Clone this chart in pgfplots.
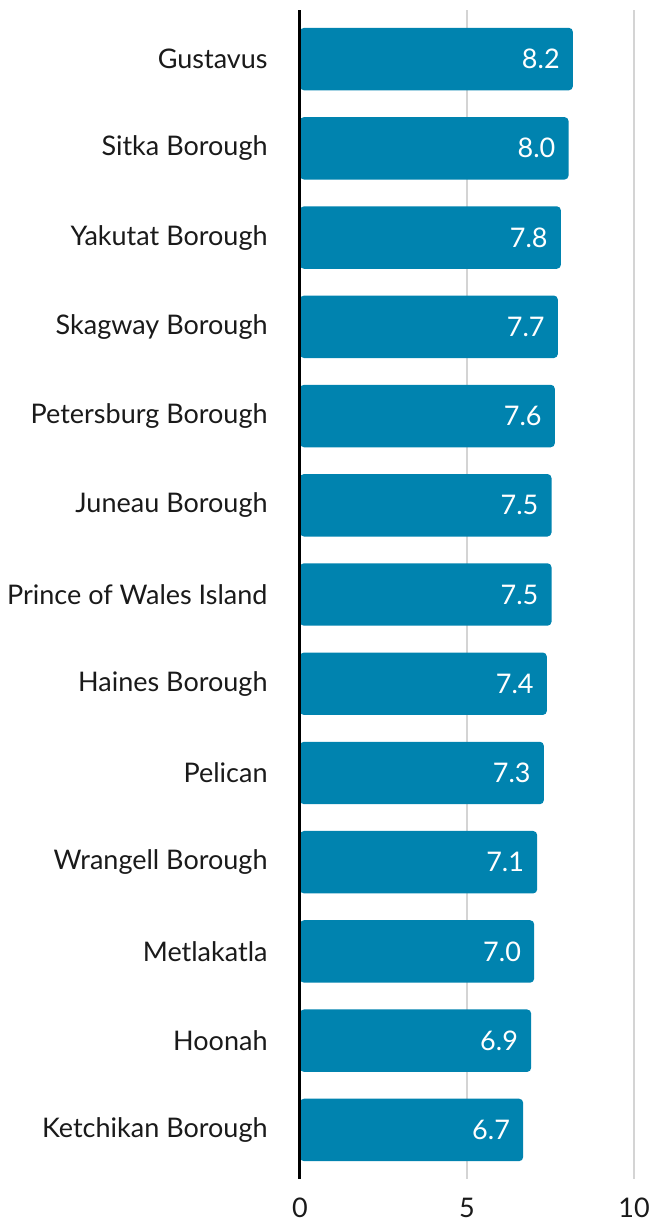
\documentclass[border=0pt]{standalone}
\usepackage{pgfplots}
\pgfplotsset{compat=1.18}
\usepackage{fontspec}
\setmainfont{Lato}
\definecolor{barblue}{HTML}{0083AF}
\definecolor{gridgray}{HTML}{D4D4D4}
\definecolor{txt}{HTML}{1A1A1A}
\begin{document}
\fontsize{27bp}{31bp}\selectfont
\begin{tikzpicture}
\begin{axis}[
  scale only axis,
  width=334bp, height=1169bp,
  xmin=0, xmax=10,
  ymin=-0.55, ymax=12.55,
  y dir=reverse,
  clip=false,
  xbar, bar width=0.7,
  axis line style={draw=none},
  xtick={0,5,10},
  xmajorgrids,
  major grid style={gridgray, line width=1.2bp},
  tick style={draw=none},
  ytick={0,...,12},
  yticklabels={Gustavus,Sitka Borough,Yakutat Borough,Skagway Borough,Petersburg Borough,Juneau Borough,Prince of Wales Island,Haines Borough,Pelican,Wrangell Borough,Metlakatla,Hoonah,Ketchikan Borough},
  yticklabel style={inner sep=0pt, xshift=-28bp, text=txt, font=\fontsize{27bp}{31bp}\selectfont},
  xticklabel style={inner sep=0pt, yshift=-19bp, text=txt, font=\fontsize{27bp}{31bp}\selectfont},
  /pgf/number format/assume math mode=true,
  nodes near coords,
  every node near coord/.append style={anchor=east, xshift=-4bp, text=white, font=\fontsize{27bp}{31bp}\selectfont,
    /pgf/number format/fixed, /pgf/number format/fixed zerofill, /pgf/number format/precision=1},
]
\addplot[fill=barblue, draw=none, rounded corners=4bp] coordinates {
(8.17,0) (8.04,1) (7.81,2) (7.72,3) (7.63,4) (7.53,5) (7.53,6) (7.39,7) (7.30,8) (7.10,9) (7.01,10) (6.92,11) (6.68,12)
};
\draw[black, line width=3bp] (axis cs:0,-0.55) -- (axis cs:0,12.55);
\end{axis}
\pgfresetboundingbox
\path (current axis.south west) ++(-300bp,-43bp) coordinate (bl);
\path (current axis.north east) ++(16bp,10bp) coordinate (tr);
\useasboundingbox (bl) rectangle (tr);
\end{tikzpicture}
\end{document}
